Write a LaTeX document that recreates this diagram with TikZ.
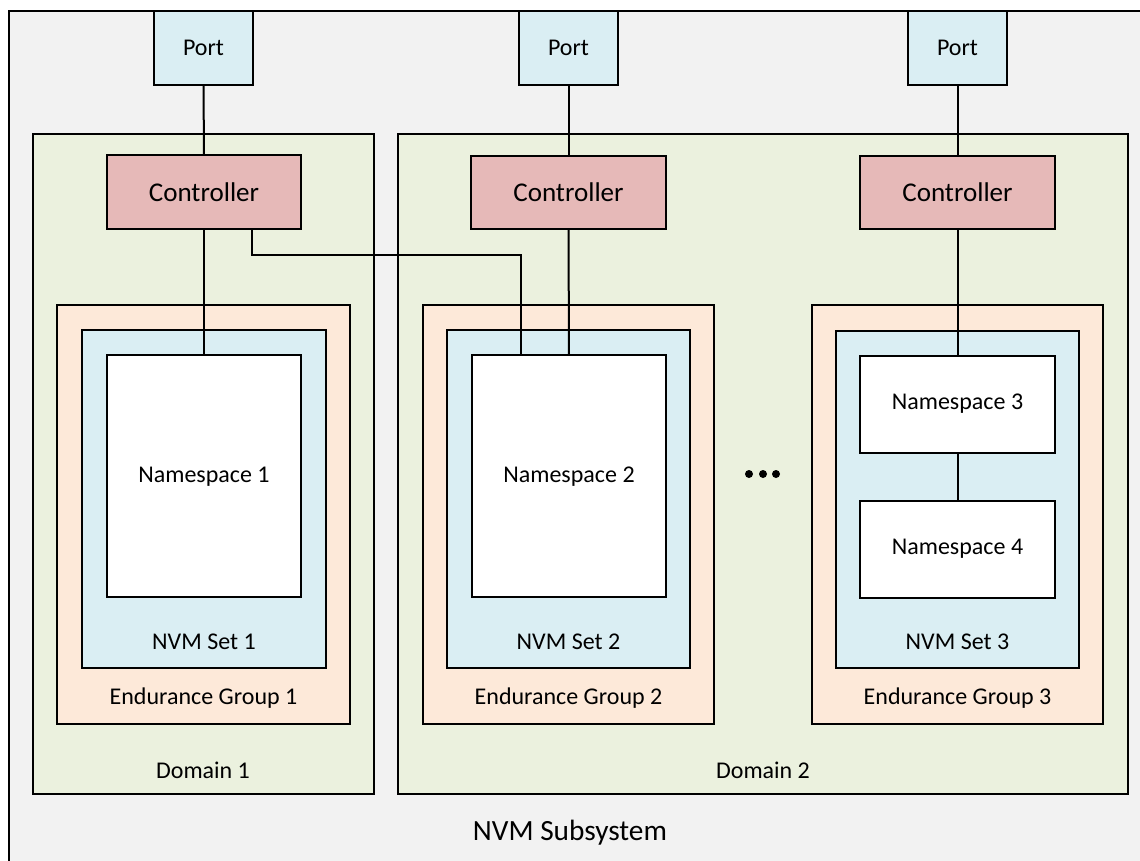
\documentclass[tikz,border=0pt]{standalone}
\usepackage{fontspec}
\setmainfont{Carlito}
\usetikzlibrary{fit}
\definecolor{outerfill}{HTML}{F2F2F2}
\definecolor{domfill}{HTML}{EBF1DE}
\definecolor{egfill}{HTML}{FDE9D9}
\definecolor{setfill}{HTML}{DAEEF3}
\definecolor{ctrlfill}{HTML}{E6B9B8}
\begin{document}
\begin{tikzpicture}[x=0.75pt,y=-0.75pt,
  box/.style={draw=black, line width=1.5pt, inner sep=0pt, outer sep=0pt, font=\fontsize{18}{20}\selectfont},
  portbox/.style={box, fill=setfill},
  ctrlbox/.style={box, fill=ctrlfill},
  dombox/.style={box, fill=domfill},
  egbox/.style={box, fill=egfill},
  setbox/.style={box, fill=setfill},
  nsbox/.style={box, fill=white},
  lbl/.style={inner sep=0pt, font=\fontsize{18}{20}\selectfont},
  ctrllbl/.style={inner sep=0pt, font=\fontsize{20.3}{22}\selectfont},
  wire/.style={line width=1.5pt},
  dot/.style={circle, fill=black, inner sep=0pt, minimum size=6pt}]
\useasboundingbox (0,0) rectangle (1140,861);
\clip (0,0) rectangle (1140,861);
% outer subsystem
\node[box, fill=outerfill, fit={(9,11) (1170,890)}] (sub) {};
\node[lbl, font=\fontsize{22}{24}\selectfont] (sublbl) at (570,833) {NVM Subsystem};
% domains
\node[dombox, fit={(33,134) (374,794)}] (dom1) {};
\node[dombox, fit={(398,134) (1128,794)}] (dom2) {};
\node[lbl] (dom1lbl) at (203,770) {Domain 1};
\node[lbl] (dom2lbl) at (763,770) {Domain 2};
% endurance groups
\node[egbox, fit={(57,305) (350,724)}] (eg1) {};
\node[egbox, fit={(423,305) (714,724)}] (eg2) {};
\node[egbox, fit={(812,305) (1103,724)}] (eg3) {};
\node[lbl] (eg1lbl) at (203.5,698) {Endurance Group 1};
\node[lbl] (eg2lbl) at (568.5,698) {Endurance Group 2};
\node[lbl] (eg3lbl) at (957.5,698) {Endurance Group 3};
% NVM sets
\node[setbox, fit={(82,330) (326,668)}] (set1) {};
\node[setbox, fit={(447,330) (690,668)}] (set2) {};
\node[setbox, fit={(836,331) (1079,668)}] (set3) {};
\node[lbl] (set1lbl) at (204,642) {NVM Set 1};
\node[lbl] (set2lbl) at (568.5,642) {NVM Set 2};
\node[lbl] (set3lbl) at (957.5,642) {NVM Set 3};
% namespaces
\node[nsbox, fit={(107,355) (301,597)}] (ns1) {};
\node[lbl] (ns1lbl) at (204,477) {Namespace 1};
\node[nsbox, fit={(472,355) (666,597)}] (ns2) {};
\node[lbl] (ns2lbl) at (569,477) {Namespace 2};
\node[nsbox, fit={(860,356) (1055,453)}] (ns3) {};
\node[lbl] (ns3lbl) at (957.5,404) {Namespace 3};
\node[nsbox, fit={(860,501) (1055,598)}] (ns4) {};
\node[lbl] (ns4lbl) at (957.5,549) {Namespace 4};
% ports
\node[portbox, fit={(154,11) (253,85)}] (p1) {};
\node[lbl] (p1lbl) at (203.5,48) {Port};
\node[portbox, fit={(519,11) (618,85)}] (p2) {};
\node[lbl] (p2lbl) at (568.5,48) {Port};
\node[portbox, fit={(908,11) (1007,85)}] (p3) {};
\node[lbl] (p3lbl) at (957.5,48) {Port};
% controllers
\node[ctrlbox, fit={(107,155) (301,229)}] (c1) {};
\node[ctrllbl] (c1lbl) at (204,192) {Controller};
\node[ctrlbox, fit={(471,156) (666,229)}] (c2) {};
\node[ctrllbl] (c2lbl) at (568.5,192) {Controller};
\node[ctrlbox, fit={(860,156) (1055,229)}] (c3) {};
\node[ctrllbl] (c3lbl) at (957.5,192) {Controller};
% dots
\node[dot] (d1) at (749,474) {};
\node[dot] (d2) at (763,474) {};
\node[dot] (d3) at (776,474) {};
% connectors
\draw[wire] (p1.south) -- (c1.north);
\draw[wire] (c1.south) -- (ns1.north);
\draw[wire] (p2.south) -- (c2.north);
\draw[wire] (c2.south) -- (ns2.north);
\draw[wire] (p3.south) -- (c3.north);
\draw[wire] (c3.south) -- (ns3.north);
\draw[wire] (ns3.south) -- (ns4.north);
\coordinate (c1b) at ([xshift=48*0.75pt]c1.south);
\coordinate (ns2t) at ([xshift=-48.5*0.75pt]ns2.north);
\coordinate (bendy) at (0,255);
\draw[wire, line join=miter] (c1b) -- (c1b |- bendy) -- (ns2t |- bendy) -- (ns2t);
\end{tikzpicture}
\end{document}
